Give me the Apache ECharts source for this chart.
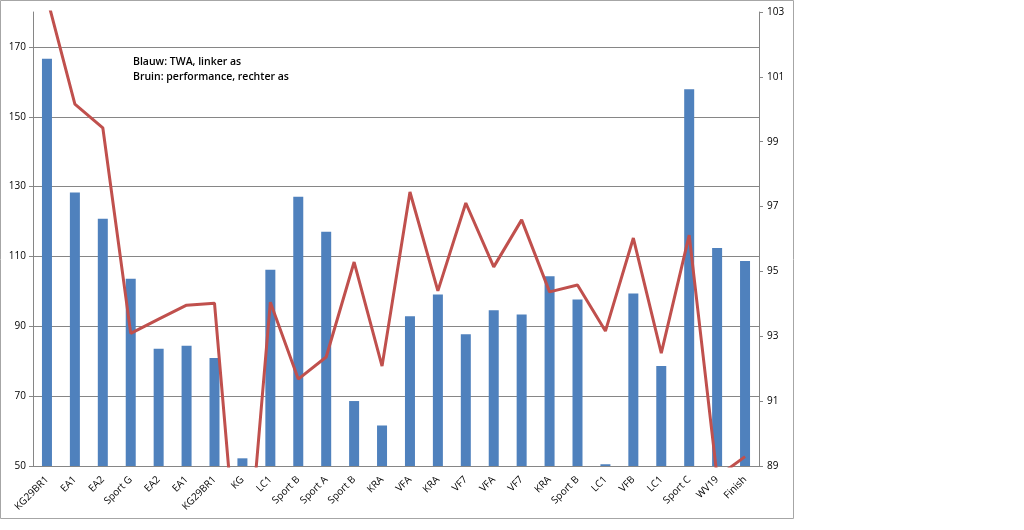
<!DOCTYPE html>
<html>
<head>
<meta charset="utf-8">
<script src="https://cdn.jsdelivr.net/npm/echarts@6/dist/echarts.min.js"></script>
<style>html,body{margin:0;padding:0;background:#fff;}#c{width:1024px;height:530px;}</style>
</head>
<body>
<div id="c"></div>
<script>
const categories = ['KG29BR1','EA1','EA2','Sport G','EA2','EA1','KG29BR1','KG','LC1','Sport B','Sport A','Sport B','KRA','VFA','KRA','VF7','VFA','VF7','KRA','Sport B','LC1','VFB','LC1','Sport C','WV19','Finish'];
const twa = [166.6,128.3,120.8,103.6,83.6,84.4,80.9,52.2,106.2,127.1,117.1,68.6,61.6,92.9,99.1,87.7,94.6,93.4,104.3,97.7,50.5,99.4,78.6,157.9,112.4,108.7];
const performance = [103.45,100.16,99.43,93.09,93.53,93.96,94.02,84.0,94.05,91.68,92.36,95.29,92.08,97.45,94.40,97.11,95.14,96.59,94.37,94.58,93.16,96.03,92.48,96.12,88.66,89.29];
const leftMin = 50, leftMax = 180, leftStep = 20;
const rightMin = 89, rightMax = 103, rightStep = 2;
const noteLines = ['Blauw: TWA, linker as', 'Bruin: performance, rechter as'];

const font = 'Open Sans';
const axisGray = '#868686';
const chart = echarts.init(document.getElementById('c'));
chart.setOption({
  animation: false,
  grid: {left: 33, right: 265, top: 12, bottom: 64},
  graphic: [
    {type: 'rect', shape: {x: 0.5, y: 0.5, width: 793, height: 518}, style: {fill: 'none', stroke: '#a6a6a6', lineWidth: 1}, z: -1},
    {type: 'text', left: 133, top: 55, style: {text: noteLines.join('\n'), font: '600 10.5px "Open Sans"', lineHeight: 15, fill: '#000'}}
  ],
  xAxis: {
    type: 'category',
    data: categories,
    boundaryGap: true,
    axisLine: {lineStyle: {color: axisGray}},
    axisTick: {length: 4, lineStyle: {color: axisGray}},
    axisLabel: {rotate: 45, interval: 0, color: '#000', fontFamily: font, fontSize: 10, margin: 12}
  },
  yAxis: [
    {
      type: 'value', position: 'left',
      min: 0, max: leftMax - leftMin, interval: leftStep,
      axisLine: {show: true, lineStyle: {color: axisGray}},
      axisTick: {show: true, length: 4, lineStyle: {color: axisGray}},
      axisLabel: {color: '#000', fontFamily: font, fontSize: 10, margin: 7, showMaxLabel: false,
        formatter: v => String(v + leftMin)},
      splitLine: {show: true, showMaxLine: false, showMinLine: false, lineStyle: {color: axisGray, width: 1}}
    },
    {
      type: 'value', position: 'right',
      min: 0, max: rightMax - rightMin, interval: rightStep,
      axisLine: {show: true, lineStyle: {color: axisGray}},
      axisTick: {show: true, length: 4, lineStyle: {color: axisGray}},
      axisLabel: {color: '#000', fontFamily: font, fontSize: 10, margin: 8,
        formatter: v => String(v + rightMin)},
      splitLine: {show: false}
    }
  ],
  series: [
    {
      name: 'TWA', type: 'bar', yAxisIndex: 0, barWidth: 10,
      itemStyle: {color: '#4F81BD'},
      data: twa.map(v => v - leftMin)
    },
    {
      name: 'performance', type: 'line', yAxisIndex: 1,
      symbol: 'none', clip: true,
      lineStyle: {color: '#C0504D', width: 3},
      data: performance.map(v => v - rightMin)
    }
  ]
});
</script>
</body>
</html>
